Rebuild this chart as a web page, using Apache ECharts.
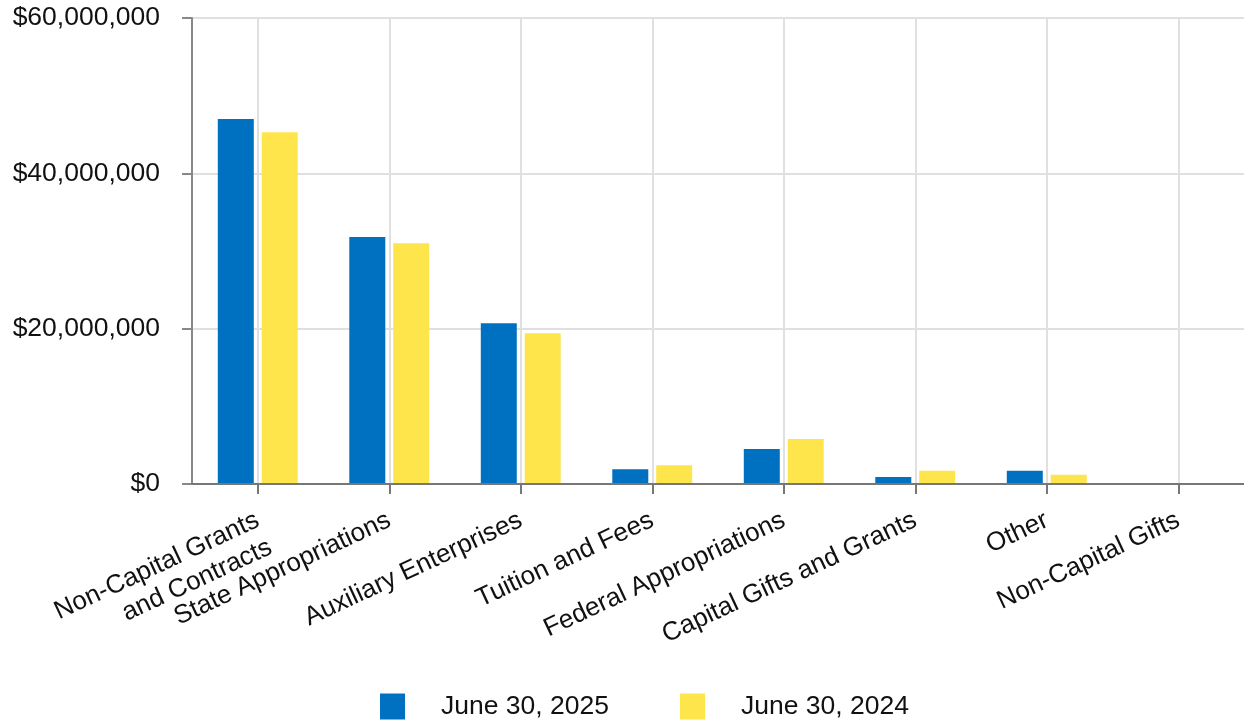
<!DOCTYPE html>
<html>
<head>
<meta charset="utf-8">
<script src="https://cdn.jsdelivr.net/npm/echarts@6/dist/echarts.min.js"></script>
<style>
html,body{margin:0;padding:0;background:#fff;}
#chart{width:1244px;height:725px;}
</style>
</head>
<body>
<div id="chart"></div>
<script>
const categories = [
  "Non-Capital Grants\nand Contracts",
  "State Appropriations",
  "Auxiliary Enterprises",
  "Tuition and Fees",
  "Federal Appropriations",
  "Capital Gifts and Grants",
  "Other",
  "Non-Capital Gifts"
];
const seriesNames = ["June 30, 2025", "June 30, 2024"];
const seriesColors = ['#0070c0', '#ffe54c'];
const values2025 = [47000000, 31800000, 20700000, 1900000, 4500000, 900000, 1700000, 0];
const values2024 = [45300000, 31000000, 19400000, 2400000, 5800000, 1700000, 1200000, 0];
const yTicks = { min: 0, max: 60000000, interval: 20000000 };

const font = "'Liberation Sans', Arial, sans-serif";
const gridColor = '#e0e0e0';
const labelLineHeight = 30;

const chart = echarts.init(document.getElementById('chart'));
chart.setOption({
  animation: false,
  grid: { left: 192, top: 18, width: 1054, bottom: 241, containLabel: false },
  legend: {
    top: 688,
    left: 375,
    itemWidth: 25,
    itemHeight: 26,
    itemGap: 71,
    icon: 'rect',
    textStyle: { fontFamily: font, fontSize: 26.5, color: '#111', padding: [0, 0, 0, 31] },
    data: seriesNames
  },
  xAxis: {
    type: 'category',
    data: categories,
    z: 3,
    axisLine: { lineStyle: { color: '#777', width: 2 } },
    axisTick: { show: true, alignWithLabel: true, length: 10, lineStyle: { color: '#777', width: 2 } },
    splitLine: { show: false },
    axisLabel: {
      interval: 0,
      rotate: 25,
      margin: 35,
      fontFamily: font,
      fontSize: 26,
      color: '#111',
      lineHeight: labelLineHeight,
      // keep the first line of a two-line label level with single-line labels
      formatter: v => v.indexOf('\n') >= 0 ? ' \n' + v : v
    }
  },
  yAxis: {
    type: 'value',
    min: yTicks.min,
    max: yTicks.max,
    interval: yTicks.interval,
    axisLine: { show: true, lineStyle: { color: '#888', width: 2 } },
    axisTick: { show: true, length: 10, lineStyle: { color: '#888', width: 2 } },
    splitLine: { show: true, lineStyle: { color: gridColor, width: 2 } },
    axisLabel: {
      margin: 32,
      fontFamily: font,
      fontSize: 26.5,
      color: '#111',
      formatter: v => '$' + v.toLocaleString('en-US')
    }
  },
  series: [
    {
      name: 'grid', type: 'line', data: [], silent: true, z: 1,
      markLine: {
        silent: true, symbol: 'none', z: 1,
        label: { show: false },
        lineStyle: { color: gridColor, width: 2, type: 'solid' },
        data: categories.map(c => ({ xAxis: c }))
      }
    },
    { name: seriesNames[0], type: 'bar', data: values2025, barWidth: 36, barGap: '22%', z: 2,
      itemStyle: { color: seriesColors[0] } },
    { name: seriesNames[1], type: 'bar', data: values2024, barWidth: 36, barGap: '22%', z: 2,
      itemStyle: { color: seriesColors[1] } }
  ]
});
</script>
</body>
</html>
